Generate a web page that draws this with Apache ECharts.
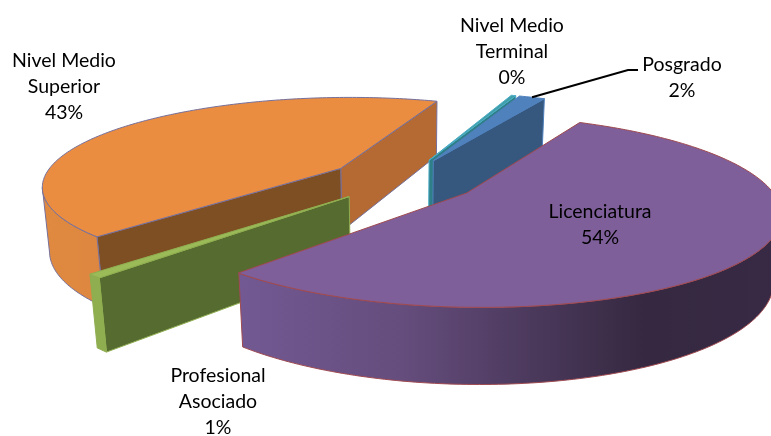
<!DOCTYPE html>
<html>
<head>
<meta charset="utf-8">
<script src="https://cdn.jsdelivr.net/npm/echarts@6/dist/echarts.min.js"></script>
<style>
  html, body { margin: 0; padding: 0; background: #fff; }
  #main { width: 771px; height: 436px; }
</style>
</head>
<body>
<div id="main"></div>
<script>
// clockwise from the first slice
const categories = ["Licenciatura", "Profesional Asociado", "Nivel Medio Superior", "Nivel Medio Terminal", "Posgrado"];
const values = [54.0, 0.7, 43.3, 0.3, 1.7];

// back to front
const drawOrder = [2, 3, 4, 1, 0];

const labelLines = [
  ["Licenciatura"],
  ["Profesional", "Asociado"],
  ["Nivel Medio", "Superior"],
  ["Nivel Medio", "Terminal"],
  ["Posgrado"],
];
const labelCenters = [[600, 225], [218, 402], [64, 87], [512, 52], [682, 78]];

const sliceStyles = [
  { top: "#7e5f9a", stroke: "#a04a50", startWall: "#5d4873", endWall: "#5d4873",
    rim: [[0, "#725993"], [0.3, "#654d7d"], [0.75, "#352840"], [1, "#382a45"]] },
  { top: "#9bbb59", stroke: "#8fae50", startWall: "#566b2f", endWall: "#566b2f",
    rim: [[0, "#8fae50"], [1, "#8fae50"]] },
  { top: "#eb8d40", stroke: "#76709c", startWall: "#7f4f24", endWall: "#b46a32",
    rim: [[0, "#e08a40"], [1, "#dc8640"]] },
  { top: "#3f9fa8", stroke: "#4bacc6", startWall: "#2f7f88", endWall: "#2f7f88",
    rim: [[0, "#3f9fa8"], [1, "#3f9fa8"]] },
  { top: "#4f81bd", stroke: "#4f81bd", startWall: "#36587f", endWall: "#36587f",
    rim: [[0, "#36587f"], [1, "#36587f"]] },
];

const firstAngle = 27.7;
const explode = 0.25;
const view = { cx: 403, cy: 180, a: 303, b: 88, h: 65, p: 0.184, q: 0.02, rx: 0.985 };

const total = values.reduce((s, v) => s + v, 0);
const slices = [];
let cursor = firstAngle;
values.forEach(function (v) {
  const span = (v / total) * 360;
  const mid = ((cursor + span / 2) * Math.PI) / 180;
  slices.push({
    from: cursor,
    to: cursor + span,
    ex: explode * Math.sin(mid),
    ey: explode * Math.cos(mid),
  });
  cursor += span;
});

function project(X, Y, Z) {
  const den = 1 + view.p * Y + view.q * Z;
  return [view.cx + (view.a * X) / den, view.cy - (view.b * Y - view.h * Z) / den];
}

function rimPoint(s, deg, Z) {
  const t = (deg * Math.PI) / 180;
  return project(s.ex + view.rx * Math.sin(t), s.ey + Math.cos(t), Z);
}

function arcPoints(s, from, to, Z) {
  const pts = [];
  const n = Math.max(2, Math.ceil(to - from));
  for (let i = 0; i <= n; i++) {
    pts.push(rimPoint(s, from + ((to - from) * i) / n, Z));
  }
  return pts;
}

// part of the slice's rim that faces the viewer
function visibleRim(s) {
  let from = null;
  let to = null;
  for (let d = s.from; d <= s.to; d += 0.25) {
    const t = (d * Math.PI) / 180;
    const px = s.ex + Math.sin(t);
    const py = s.ey + Math.cos(t);
    const facing = (0 - px) * Math.sin(t) + (-1 / view.p - py) * Math.cos(t);
    if (facing > 0) {
      if (from === null) from = d;
      to = d;
    }
  }
  return from === null || to === from ? null : [from, to];
}

function wallFaces(s, deg, sign) {
  const t = (deg * Math.PI) / 180;
  const nx = sign * Math.cos(t);
  const ny = -sign * Math.sin(t);
  return (0 - s.ex) * nx + (-1 / view.p - s.ey) * ny > 0;
}

function poly(points, fill, stroke) {
  return {
    type: "polygon",
    shape: { points: points },
    style: { fill: fill, stroke: stroke, lineWidth: 1, lineJoin: "round" },
  };
}

function wall(s, deg, fill, stroke) {
  return poly(
    [project(s.ex, s.ey, 0), rimPoint(s, deg, 0), rimPoint(s, deg, 1), project(s.ex, s.ey, 1)],
    fill,
    stroke
  );
}

function renderSlice(params, api) {
  const idx = api.value(0);
  const s = slices[idx];
  const st = sliceStyles[idx];
  const children = [];
  if (wallFaces(s, s.to, 1)) children.push(wall(s, s.to, st.endWall, st.stroke));
  if (wallFaces(s, s.from, -1)) children.push(wall(s, s.from, st.startWall, st.stroke));
  const range = visibleRim(s);
  if (range) {
    const top = arcPoints(s, range[0], range[1], 0);
    const bottom = arcPoints(s, range[0], range[1], 1);
    const xs = top.concat(bottom).map((p) => p[0]);
    const rimFill = new echarts.graphic.LinearGradient(
      Math.min.apply(null, xs), 0, Math.max.apply(null, xs), 0,
      st.rim.map((c) => ({ offset: c[0], color: c[1] })),
      true
    );
    children.push(poly(top.concat(bottom.slice().reverse()), rimFill, st.stroke));
  }
  children.push(poly([project(s.ex, s.ey, 0)].concat(arcPoints(s, s.from, s.to, 0)), st.top, st.stroke));
  return { type: "group", children: children };
}

function renderLabel(params, api) {
  const idx = api.value(0);
  const pct = Math.round((values[idx] / total) * 100) + "%";
  return {
    type: "text",
    style: {
      x: labelCenters[idx][0],
      y: labelCenters[idx][1],
      text: labelLines[idx].concat(pct).join("\n"),
      fill: "#000",
      font: "19.5px Lato",
      lineHeight: 26,
      align: "center",
      verticalAlign: "middle",
    },
  };
}

// leader line of Posgrado, from its rim to beside its label
const posgrado = slices[4];
const leaderStart = rimPoint(posgrado, (posgrado.from + posgrado.to) / 2, 0);

const chart = echarts.init(document.getElementById("main"));
chart.setOption({
  animation: false,
  backgroundColor: "#fff",
  series: [
    {
      type: "custom",
      coordinateSystem: "none",
      silent: true,
      clip: false,
      data: drawOrder.map((i) => [i]),
      renderItem: renderSlice,
    },
    {
      type: "custom",
      coordinateSystem: "none",
      silent: true,
      z: 3,
      data: [[0]],
      renderItem: function () {
        return {
          type: "polyline",
          shape: { points: [leaderStart, [628, 70], [638, 70]] },
          style: { stroke: "#000", lineWidth: 2, fill: null },
        };
      },
    },
    {
      type: "custom",
      coordinateSystem: "none",
      silent: true,
      z: 4,
      data: categories.map((c, i) => [i]),
      renderItem: renderLabel,
    },
  ],
});
</script>
</body>
</html>
